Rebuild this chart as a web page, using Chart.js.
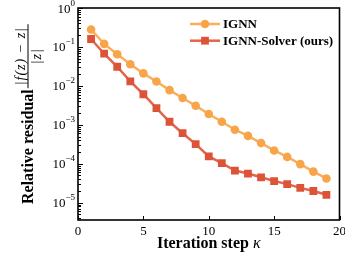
<!DOCTYPE html>
<html><head><meta charset="utf-8">
<script src="https://cdn.jsdelivr.net/npm/chart.js@4"></script>
<style>html,body{margin:0;padding:0;background:#fff;}canvas{display:block;}</style>
</head><body>
<canvas id="c" width="345" height="257"></canvas>
<script>
const steps = [1,2,3,4,5,6,7,8,9,10,11,12,13,14,15,16,17,18,19];
const ignnValues = [0.28,0.12,0.065,0.036,0.021,0.013,0.0078,0.0049,0.0031,0.0019,0.0012,7.5e-4,5.2e-4,3.4e-4,2.2e-4,1.5e-4,9.8e-5,6.3e-5,4.2e-5];
const solverValues = [0.16,0.067,0.031,0.013,0.0061,0.0027,0.0012,6.1e-4,3.2e-4,1.55e-4,1.04e-4,6.7e-5,5.6e-5,4.5e-5,3.6e-5,3.0e-5,2.4e-5,2.0e-5,1.6e-5];
const seriesNames = ['IGNN','IGNN-Solver (ours)'];
const xTickValues = [0,5,10,15,20];
const yTickValues = [1e-5,1e-4,1e-3,1e-2,1e-1,1];
const yTickBase = '10';
const yTickExponents = ['\u22125','\u22124','\u22123','\u22122','\u22121','0'];
const xTitle = 'Iteration step ';
const xTitleSymbol = '\u03BA';
const yTitle = 'Relative residual';
const yNumer = '|f(z) \u2212 z|';
const yDenom = '|z|';

const SERIF = '"Liberation Serif","Times New Roman",serif';
const colors = {
  ignn: {line:'#FBAE5C', point:'#F8A54A'},
  solver: {line:'#E4644C', point:'#DD5338'}
};

const decor = {
  id:'decor',
  afterDatasetsDraw(chart){
    const ctx = chart.ctx, a = chart.chartArea;
    const xs = chart.scales.x, ys = chart.scales.y;
    ctx.save();
    ctx.strokeStyle = '#000';
    // inward ticks
    ctx.lineWidth = 1;
    ctx.beginPath();
    xTickValues.forEach(v=>{const p=Math.round(xs.getPixelForValue(v))+0.5; ctx.moveTo(p,a.bottom); ctx.lineTo(p,a.bottom-4);});
    for(let e=-6;e<=0;e++){
      for(let k=1;k<=9;k++){
        const v=k*Math.pow(10,e);
        if(v<ys.min||v>ys.max) continue;
        const p=Math.round(ys.getPixelForValue(v))+0.5;
        const len = k===1?5:3;
        ctx.moveTo(a.left,p); ctx.lineTo(a.left+len,p);
      }
    }
    ctx.stroke();
    // frame
    ctx.lineWidth = 1.6;
    ctx.strokeRect(a.left, a.top, a.right-a.left, a.bottom-a.top);
    // y tick labels with superscripts
    ctx.fillStyle='#000'; ctx.textAlign='left'; ctx.textBaseline='alphabetic';
    yTickValues.forEach((v,i)=>{
      const p = ys.getPixelForValue(v);
      ctx.font='13px '+SERIF; const wb=ctx.measureText(yTickBase).width;
      ctx.font='9px '+SERIF; const we=ctx.measureText(yTickExponents[i]).width;
      const x0 = a.left - 3 - wb - we;
      ctx.font='13px '+SERIF; ctx.fillText(yTickBase, x0, p+4.5);
      ctx.font='9px '+SERIF; ctx.fillText(yTickExponents[i], x0+wb, p-2.5);
    });
    // legend
    const ds = chart.data.datasets;
    const lx0=190, lx1=220, tx=223;
    ds.forEach((d,i)=>{
      const y = 24 + i*16.7;
      ctx.strokeStyle=d.borderColor; ctx.lineWidth=d.borderWidth;
      ctx.beginPath(); ctx.moveTo(lx0,y); ctx.lineTo(lx1,y); ctx.stroke();
      ctx.fillStyle=d.pointBackgroundColor;
      ctx.beginPath();
      if(d.pointStyle==='rect'){const s=Math.SQRT1_2*d.pointRadius; ctx.rect((lx0+lx1)/2-s,y-s,2*s,2*s);}
      else {ctx.arc((lx0+lx1)/2,y,d.pointRadius,0,Math.PI*2);}
      ctx.fill();
      ctx.fillStyle='#000'; ctx.font='bold 13px '+SERIF; ctx.textBaseline='middle'; ctx.textAlign='left';
      ctx.fillText(d.label, tx, y+0.5);
    });
    // x title
    ctx.textBaseline='alphabetic';
    ctx.font='bold 16px '+SERIF;
    const w1=ctx.measureText(xTitle).width;
    ctx.font='italic 16px '+SERIF;
    const w2=ctx.measureText(xTitleSymbol).width;
    const cx=(a.left+a.right)/2, sx=cx-(w1+w2)/2;
    ctx.font='bold 16px '+SERIF; ctx.fillText(xTitle, sx, 248);
    ctx.font='italic 16px '+SERIF; ctx.fillText(xTitleSymbol, sx+w1, 248);
    // y title
    ctx.save();
    ctx.translate(33, 204);
    ctx.rotate(-Math.PI/2);
    ctx.font='bold 16px '+SERIF; ctx.textAlign='left';
    ctx.fillText(yTitle, 0, 0);
    const tw=ctx.measureText(yTitle).width;
    const f0=tw+1, flen=64, fc=f0+flen/2;
    ctx.lineWidth=1; ctx.strokeStyle='#000';
    ctx.beginPath(); ctx.moveTo(f0,-5); ctx.lineTo(f0+flen,-5); ctx.stroke();
    ctx.font='italic 14px '+SERIF; ctx.textAlign='center';
    ctx.letterSpacing='1px';
    ctx.fillText(yNumer, fc, -8.5);
    ctx.fillText(yDenom, fc, 7.5);
    ctx.restore();
    ctx.restore();
  }
};

new Chart(document.getElementById('c'), {
  type:'line',
  data:{
    datasets:[
      {label:seriesNames[0], data:steps.map((s,i)=>({x:s,y:ignnValues[i]})), borderColor:colors.ignn.line, backgroundColor:colors.ignn.point,
       pointBackgroundColor:colors.ignn.point, pointBorderColor:colors.ignn.point, pointBorderWidth:0, borderWidth:2.5, pointStyle:'circle', pointRadius:4.3, tension:0},
      {label:seriesNames[1], data:steps.map((s,i)=>({x:s,y:solverValues[i]})), borderColor:colors.solver.line, backgroundColor:colors.solver.point,
       pointBackgroundColor:colors.solver.point, pointBorderColor:colors.solver.point, pointBorderWidth:0, borderWidth:2.5, pointStyle:'rect', pointRadius:5.5, tension:0}
    ]
  },
  options:{
    responsive:false, animation:false, devicePixelRatio:1,
    layout:{padding:{top:8,right:4,left:0,bottom:0}},
    plugins:{legend:{display:false}, tooltip:{enabled:false}},
    scales:{
      x:{type:'linear', min:0, max:20,
        grid:{display:false, drawTicks:false}, border:{display:false},
        afterBuildTicks(s){ s.ticks = xTickValues.map(v=>({value:v})); },
        afterFit(s){ s.height = 37; s.paddingLeft = 0; s.paddingRight = 0; },
        ticks:{padding:4, color:'#000', font:{family:SERIF, size:13}, maxRotation:0, autoSkip:false}
      },
      y:{type:'logarithmic', min:3.6e-6, max:1,
        grid:{display:false, drawTicks:false}, border:{display:false},
        afterBuildTicks(s){ s.ticks = yTickValues.map(v=>({value:v})); },
        afterFit(s){ s.width = 78; s.paddingTop = 0; s.paddingBottom = 0; },
        ticks:{display:false}
      }
    }
  },
  plugins:[decor]
});
</script>
</body></html>
